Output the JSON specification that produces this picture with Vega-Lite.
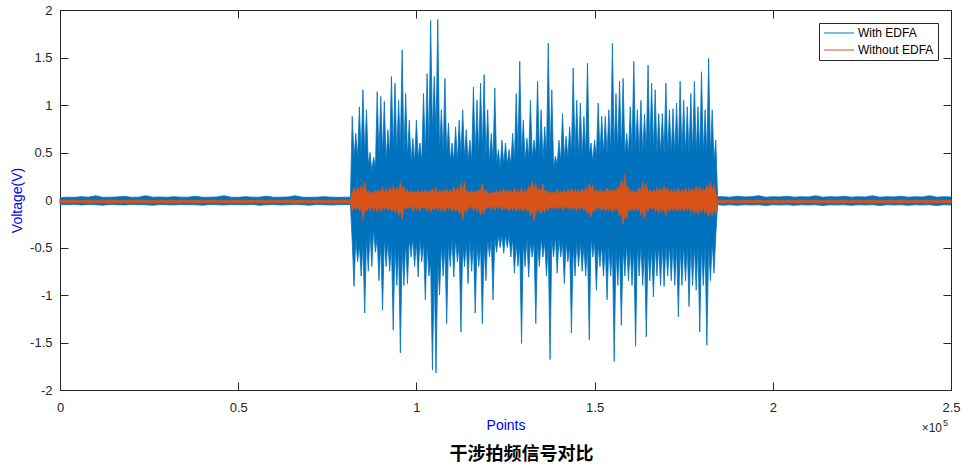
{
"$schema": "https://vega.github.io/schema/vega-lite/v6.json",
"autosize": "none",
"width": 891,
"height": 380,
"padding": {"left": 60, "top": 10, "right": 25, "bottom": 78},
"background": "white",
"config": {
  "font": "Liberation Sans",
  "view": {"stroke": "#262626", "strokeWidth": 1},
  "axis": {"domainColor": "#262626", "tickColor": "#262626", "labelColor": "#262626", "labelFont": "Liberation Sans", "labelFontSize": 13, "tickSize": -8, "grid": false, "titleFont": "Liberation Sans", "titleFontSize": 14, "titleColor": "#0000FF", "titleFontWeight": "normal"}
},
"title": {"text": "干涉拍频信号对比", "orient": "bottom", "anchor": "middle", "font": "Noto Sans CJK SC", "fontSize": 18, "fontWeight": "bold", "color": "#000000", "offset": 12, "dx": 16},
"data": {"values": [
{"x":0,"h":0.025,"l":-0.048,"p":-0.002,"q":-0.03},{"x":2000,"h":0.03,"l":-0.05,"p":-0.003,"q":-0.031},{"x":4000,"h":0.028,"l":-0.046,"p":-0.002,"q":-0.029},{"x":6000,"h":0.035,"l":-0.052,"p":-0.004,"q":-0.03},{"x":8000,"h":0.03,"l":-0.048,"p":-0.002,"q":-0.031},
{"x":10000,"h":0.045,"l":-0.05,"p":-0.003,"q":-0.03},{"x":12000,"h":0.028,"l":-0.055,"p":-0.002,"q":-0.029},{"x":14000,"h":0.03,"l":-0.047,"p":-0.003,"q":-0.031},{"x":16000,"h":0.032,"l":-0.05,"p":-0.002,"q":-0.03},{"x":18000,"h":0.04,"l":-0.052,"p":-0.004,"q":-0.03},
{"x":20000,"h":0.028,"l":-0.047,"p":-0.002,"q":-0.031},{"x":22000,"h":0.03,"l":-0.05,"p":-0.003,"q":-0.029},{"x":24000,"h":0.045,"l":-0.05,"p":-0.002,"q":-0.03},{"x":26000,"h":0.03,"l":-0.056,"p":-0.003,"q":-0.031},{"x":28000,"h":0.032,"l":-0.048,"p":-0.002,"q":-0.03},
{"x":30000,"h":0.028,"l":-0.05,"p":-0.003,"q":-0.03},{"x":32000,"h":0.035,"l":-0.052,"p":-0.002,"q":-0.031},{"x":34000,"h":0.03,"l":-0.047,"p":-0.004,"q":-0.029},{"x":36000,"h":0.03,"l":-0.05,"p":-0.002,"q":-0.03},{"x":38000,"h":0.04,"l":-0.05,"p":-0.003,"q":-0.031},
{"x":40000,"h":0.028,"l":-0.055,"p":-0.002,"q":-0.03},{"x":42000,"h":0.03,"l":-0.047,"p":-0.003,"q":-0.029},{"x":44000,"h":0.032,"l":-0.05,"p":-0.002,"q":-0.03},{"x":46000,"h":0.045,"l":-0.052,"p":-0.004,"q":-0.031},{"x":48000,"h":0.03,"l":-0.048,"p":-0.002,"q":-0.03},
{"x":50000,"h":0.028,"l":-0.05,"p":-0.003,"q":-0.03},{"x":52000,"h":0.035,"l":-0.05,"p":-0.002,"q":-0.031},{"x":54000,"h":0.03,"l":-0.047,"p":-0.003,"q":-0.029},{"x":56000,"h":0.03,"l":-0.055,"p":-0.002,"q":-0.03},{"x":58000,"h":0.04,"l":-0.05,"p":-0.004,"q":-0.031},
{"x":60000,"h":0.028,"l":-0.047,"p":-0.002,"q":-0.03},{"x":62000,"h":0.03,"l":-0.052,"p":-0.003,"q":-0.03},{"x":64000,"h":0.032,"l":-0.05,"p":-0.002,"q":-0.029},{"x":66000,"h":0.045,"l":-0.048,"p":-0.003,"q":-0.031},{"x":68000,"h":0.03,"l":-0.05,"p":-0.002,"q":-0.03},
{"x":70000,"h":0.028,"l":-0.055,"p":-0.004,"q":-0.03},{"x":72000,"h":0.03,"l":-0.047,"p":-0.002,"q":-0.031},{"x":74000,"h":0.035,"l":-0.05,"p":-0.003,"q":-0.029},{"x":76000,"h":0.03,"l":-0.052,"p":-0.002,"q":-0.03},{"x":78000,"h":0.028,"l":-0.05,"p":-0.003,"q":-0.031},
{"x":80000,"h":0.03,"l":-0.048,"p":-0.002,"q":-0.03},{"x":81500,"h":0.03,"l":-0.05,"p":-0.003,"q":-0.03},
{"x":82000,"h":0.88,"l":-0.44,"p":0.07,"q":-0.12},{"x":82500,"h":0.44,"l":-0.91,"p":0.13,"q":-0.07},{"x":83000,"h":0.7,"l":-0.4,"p":0.06,"q":-0.1},{"x":83500,"h":0.44,"l":-0.65,"p":0.14,"q":-0.08},{"x":84000,"h":0.98,"l":-0.47,"p":0.07,"q":-0.11},
{"x":84500,"h":0.47,"l":-0.8,"p":0.16,"q":-0.08},{"x":85000,"h":1.16,"l":-0.47,"p":0.09,"q":-0.2},{"x":85500,"h":0.47,"l":-1.19,"p":0.19,"q":-0.1},{"x":86000,"h":0.95,"l":-0.4,"p":0.07,"q":-0.12},{"x":86500,"h":0.37,"l":-0.75,"p":0.1,"q":-0.07},
{"x":87000,"h":0.5,"l":-0.33,"p":0.06,"q":-0.11},{"x":87500,"h":0.3,"l":-0.7,"p":0.09,"q":-0.06},{"x":88000,"h":0.45,"l":-0.3,"p":0.07,"q":-0.12},{"x":88500,"h":0.33,"l":-0.55,"p":0.1,"q":-0.07},{"x":89000,"h":1.14,"l":-0.4,"p":0.08,"q":-0.13},
{"x":89500,"h":0.44,"l":-0.85,"p":0.11,"q":-0.07},{"x":90000,"h":1.09,"l":-0.44,"p":0.07,"q":-0.12},{"x":90500,"h":0.47,"l":-1.16,"p":0.14,"q":-0.08},{"x":91000,"h":1.04,"l":-0.4,"p":0.07,"q":-0.1},{"x":91500,"h":0.4,"l":-0.7,"p":0.12,"q":-0.07},
{"x":92000,"h":0.74,"l":-0.44,"p":0.07,"q":-0.11},{"x":92500,"h":0.47,"l":-0.75,"p":0.13,"q":-0.08},{"x":93000,"h":1.3,"l":-0.47,"p":0.08,"q":-0.12},{"x":93500,"h":0.5,"l":-1.37,"p":0.15,"q":-0.09},{"x":94000,"h":1.23,"l":-0.47,"p":0.08,"q":-0.13},
{"x":94500,"h":0.47,"l":-0.9,"p":0.14,"q":-0.08},{"x":95000,"h":1.05,"l":-0.5,"p":0.09,"q":-0.16},{"x":95500,"h":0.55,"l":-1.61,"p":0.19,"q":-0.1},{"x":96000,"h":1.58,"l":-0.5,"p":0.1,"q":-0.2},{"x":96500,"h":0.47,"l":-0.9,"p":0.14,"q":-0.08},
{"x":97000,"h":1.12,"l":-0.44,"p":0.07,"q":-0.1},{"x":97500,"h":0.44,"l":-0.88,"p":0.11,"q":-0.07},{"x":98000,"h":0.84,"l":-0.4,"p":0.06,"q":-0.09},{"x":98500,"h":0.4,"l":-0.6,"p":0.1,"q":-0.06},{"x":99000,"h":0.65,"l":-0.4,"p":0.07,"q":-0.12},
{"x":99500,"h":0.4,"l":-0.7,"p":0.09,"q":-0.06},{"x":100000,"h":0.84,"l":-0.44,"p":0.07,"q":-0.11},{"x":100500,"h":0.44,"l":-0.81,"p":0.1,"q":-0.07},{"x":101000,"h":0.6,"l":-0.4,"p":0.07,"q":-0.12},{"x":101500,"h":0.4,"l":-0.65,"p":0.1,"q":-0.07},
{"x":102000,"h":1.12,"l":-0.44,"p":0.06,"q":-0.09},{"x":102500,"h":0.47,"l":-1.05,"p":0.11,"q":-0.07},{"x":103000,"h":1.33,"l":-0.47,"p":0.07,"q":-0.12},{"x":103500,"h":0.55,"l":-0.8,"p":0.1,"q":-0.07},{"x":104000,"h":1.89,"l":-0.65,"p":0.08,"q":-0.13},
{"x":104500,"h":0.7,"l":-1.79,"p":0.12,"q":-0.08},{"x":105000,"h":1.3,"l":-0.7,"p":0.07,"q":-0.1},{"x":105500,"h":0.7,"l":-1.82,"p":0.14,"q":-0.08},{"x":106000,"h":1.9,"l":-0.65,"p":0.07,"q":-0.11},{"x":106500,"h":0.5,"l":-1.0,"p":0.1,"q":-0.07},
{"x":107000,"h":0.95,"l":-0.47,"p":0.07,"q":-0.12},{"x":107500,"h":0.47,"l":-0.8,"p":0.11,"q":-0.07},{"x":108000,"h":1.28,"l":-0.47,"p":0.08,"q":-0.13},{"x":108500,"h":0.47,"l":-1.3,"p":0.12,"q":-0.07},{"x":109000,"h":0.81,"l":-0.44,"p":0.07,"q":-0.1},
{"x":109500,"h":0.4,"l":-0.7,"p":0.11,"q":-0.07},{"x":110000,"h":0.6,"l":-0.4,"p":0.07,"q":-0.12},{"x":110500,"h":0.4,"l":-0.81,"p":0.14,"q":-0.08},{"x":111000,"h":0.77,"l":-0.4,"p":0.08,"q":-0.12},{"x":111500,"h":0.4,"l":-0.65,"p":0.13,"q":-0.08},
{"x":112000,"h":0.84,"l":-0.47,"p":0.09,"q":-0.15},{"x":112500,"h":0.47,"l":-1.39,"p":0.18,"q":-0.1},{"x":113000,"h":0.95,"l":-0.47,"p":0.1,"q":-0.21},{"x":113500,"h":0.44,"l":-0.7,"p":0.19,"q":-0.09},{"x":114000,"h":0.74,"l":-0.44,"p":0.07,"q":-0.13},
{"x":114500,"h":0.4,"l":-0.88,"p":0.1,"q":-0.07},{"x":115000,"h":0.63,"l":-0.4,"p":0.06,"q":-0.09},{"x":115500,"h":0.4,"l":-0.75,"p":0.1,"q":-0.06},{"x":116000,"h":1.19,"l":-0.44,"p":0.07,"q":-0.11},{"x":116500,"h":0.47,"l":-1.19,"p":0.1,"q":-0.07},
{"x":117000,"h":1.05,"l":-0.47,"p":0.07,"q":-0.12},{"x":117500,"h":0.47,"l":-0.7,"p":0.11,"q":-0.07},{"x":118000,"h":1.23,"l":-0.47,"p":0.09,"q":-0.16},{"x":118500,"h":0.5,"l":-1.3,"p":0.18,"q":-0.09},{"x":119000,"h":1.32,"l":-0.47,"p":0.08,"q":-0.15},
{"x":119500,"h":0.44,"l":-0.85,"p":0.11,"q":-0.07},{"x":120000,"h":0.95,"l":-0.4,"p":0.06,"q":-0.09},{"x":120500,"h":0.37,"l":-0.6,"p":0.08,"q":-0.06},{"x":121000,"h":0.7,"l":-0.4,"p":0.06,"q":-0.1},{"x":121500,"h":0.4,"l":-1.05,"p":0.09,"q":-0.06},
{"x":122000,"h":1.18,"l":-0.4,"p":0.07,"q":-0.11},{"x":122500,"h":0.37,"l":-0.55,"p":0.1,"q":-0.06},{"x":123000,"h":0.53,"l":-0.37,"p":0.06,"q":-0.09},{"x":123500,"h":0.33,"l":-0.5,"p":0.1,"q":-0.06},{"x":124000,"h":0.63,"l":-0.37,"p":0.07,"q":-0.11},
{"x":124500,"h":0.37,"l":-0.56,"p":0.12,"q":-0.07},{"x":125000,"h":0.6,"l":-0.37,"p":0.07,"q":-0.1},{"x":125500,"h":0.37,"l":-0.5,"p":0.11,"q":-0.07},{"x":126000,"h":0.53,"l":-0.37,"p":0.07,"q":-0.12},{"x":126500,"h":0.37,"l":-0.6,"p":0.1,"q":-0.07},
{"x":127000,"h":0.7,"l":-0.4,"p":0.07,"q":-0.11},{"x":127500,"h":0.4,"l":-0.77,"p":0.13,"q":-0.07},{"x":128000,"h":1.12,"l":-0.44,"p":0.07,"q":-0.12},{"x":128500,"h":0.47,"l":-0.7,"p":0.1,"q":-0.07},{"x":129000,"h":1.46,"l":-0.47,"p":0.07,"q":-0.11},
{"x":129500,"h":0.47,"l":-1.51,"p":0.13,"q":-0.08},{"x":130000,"h":0.84,"l":-0.44,"p":0.07,"q":-0.12},{"x":130500,"h":0.4,"l":-0.7,"p":0.11,"q":-0.07},{"x":131000,"h":0.65,"l":-0.4,"p":0.08,"q":-0.12},{"x":131500,"h":0.44,"l":-0.81,"p":0.15,"q":-0.09},
{"x":132000,"h":1.05,"l":-0.44,"p":0.1,"q":-0.17},{"x":132500,"h":0.44,"l":-0.6,"p":0.2,"q":-0.1},{"x":133000,"h":0.63,"l":-0.44,"p":0.1,"q":-0.23},{"x":133500,"h":0.47,"l":-1.3,"p":0.18,"q":-0.09},{"x":134000,"h":1.25,"l":-0.44,"p":0.08,"q":-0.13},
{"x":134500,"h":0.44,"l":-0.7,"p":0.12,"q":-0.08},{"x":135000,"h":0.95,"l":-0.4,"p":0.09,"q":-0.15},{"x":135500,"h":0.4,"l":-0.6,"p":0.17,"q":-0.09},{"x":136000,"h":0.77,"l":-0.44,"p":0.08,"q":-0.13},{"x":136500,"h":0.47,"l":-0.8,"p":0.1,"q":-0.07},
{"x":137000,"h":1.65,"l":-0.47,"p":0.07,"q":-0.11},{"x":137500,"h":0.47,"l":-1.68,"p":0.09,"q":-0.06},{"x":138000,"h":1.16,"l":-0.4,"p":0.06,"q":-0.1},{"x":138500,"h":0.33,"l":-0.6,"p":0.09,"q":-0.06},{"x":139000,"h":0.46,"l":-0.37,"p":0.06,"q":-0.1},
{"x":139500,"h":0.37,"l":-0.77,"p":0.11,"q":-0.07},{"x":140000,"h":0.63,"l":-0.4,"p":0.06,"q":-0.09},{"x":140500,"h":0.4,"l":-0.6,"p":0.1,"q":-0.06},{"x":141000,"h":0.91,"l":-0.44,"p":0.07,"q":-0.11},{"x":141500,"h":0.44,"l":-0.88,"p":0.1,"q":-0.07},
{"x":142000,"h":0.67,"l":-0.44,"p":0.06,"q":-0.09},{"x":142500,"h":0.44,"l":-0.65,"p":0.11,"q":-0.07},{"x":143000,"h":0.77,"l":-0.47,"p":0.07,"q":-0.1},{"x":143500,"h":0.47,"l":-1.4,"p":0.12,"q":-0.07},{"x":144000,"h":1.39,"l":-0.47,"p":0.07,"q":-0.1},
{"x":144500,"h":0.47,"l":-0.8,"p":0.11,"q":-0.07},{"x":145000,"h":1.05,"l":-0.44,"p":0.07,"q":-0.12},{"x":145500,"h":0.44,"l":-0.7,"p":0.11,"q":-0.07},{"x":146000,"h":1.02,"l":-0.44,"p":0.07,"q":-0.1},{"x":146500,"h":0.44,"l":-0.75,"p":0.12,"q":-0.07},
{"x":147000,"h":0.88,"l":-0.47,"p":0.07,"q":-0.11},{"x":147500,"h":0.47,"l":-0.8,"p":0.13,"q":-0.08},{"x":148000,"h":1.44,"l":-0.47,"p":0.09,"q":-0.15},{"x":148500,"h":0.47,"l":-1.47,"p":0.17,"q":-0.1},{"x":149000,"h":0.6,"l":-0.4,"p":0.1,"q":-0.18},
{"x":149500,"h":0.4,"l":-0.6,"p":0.16,"q":-0.09},{"x":150000,"h":0.63,"l":-0.44,"p":0.07,"q":-0.12},{"x":150500,"h":0.44,"l":-0.95,"p":0.11,"q":-0.07},{"x":151000,"h":1.02,"l":-0.47,"p":0.07,"q":-0.1},{"x":151500,"h":0.47,"l":-0.7,"p":0.12,"q":-0.07},
{"x":152000,"h":0.88,"l":-0.47,"p":0.07,"q":-0.11},{"x":152500,"h":0.47,"l":-0.8,"p":0.1,"q":-0.07},{"x":153000,"h":0.88,"l":-0.47,"p":0.07,"q":-0.12},{"x":153500,"h":0.47,"l":-1.05,"p":0.13,"q":-0.08},{"x":154000,"h":0.95,"l":-0.47,"p":0.08,"q":-0.12},
{"x":154500,"h":0.5,"l":-0.8,"p":0.11,"q":-0.08},{"x":155000,"h":1.65,"l":-0.5,"p":0.08,"q":-0.13},{"x":155500,"h":0.5,"l":-1.7,"p":0.12,"q":-0.08},{"x":156000,"h":1.12,"l":-0.5,"p":0.08,"q":-0.11},{"x":156500,"h":0.5,"l":-0.9,"p":0.14,"q":-0.09},
{"x":157000,"h":1.25,"l":-0.5,"p":0.1,"q":-0.17},{"x":157500,"h":0.5,"l":-1.32,"p":0.21,"q":-0.12},{"x":158000,"h":1.28,"l":-0.5,"p":0.13,"q":-0.26},{"x":158500,"h":0.47,"l":-0.8,"p":0.27,"q":-0.13},{"x":159000,"h":0.7,"l":-0.47,"p":0.1,"q":-0.2},
{"x":159500,"h":0.47,"l":-0.85,"p":0.14,"q":-0.08},{"x":160000,"h":0.98,"l":-0.5,"p":0.07,"q":-0.12},{"x":160500,"h":0.5,"l":-0.9,"p":0.11,"q":-0.07},{"x":161000,"h":1.46,"l":-0.5,"p":0.07,"q":-0.12},{"x":161500,"h":0.5,"l":-1.54,"p":0.1,"q":-0.07},
{"x":162000,"h":0.95,"l":-0.47,"p":0.07,"q":-0.11},{"x":162500,"h":0.47,"l":-0.8,"p":0.13,"q":-0.08},{"x":163000,"h":1.05,"l":-0.47,"p":0.09,"q":-0.16},{"x":163500,"h":0.47,"l":-0.9,"p":0.19,"q":-0.1},{"x":164000,"h":0.9,"l":-0.5,"p":0.1,"q":-0.2},
{"x":164500,"h":0.5,"l":-1.44,"p":0.17,"q":-0.09},{"x":165000,"h":1.42,"l":-0.5,"p":0.07,"q":-0.12},{"x":165500,"h":0.5,"l":-0.85,"p":0.11,"q":-0.07},{"x":166000,"h":1.23,"l":-0.5,"p":0.07,"q":-0.1},{"x":166500,"h":0.5,"l":-1.02,"p":0.11,"q":-0.07},
{"x":167000,"h":1.16,"l":-0.47,"p":0.07,"q":-0.12},{"x":167500,"h":0.47,"l":-0.8,"p":0.13,"q":-0.08},{"x":168000,"h":0.91,"l":-0.47,"p":0.08,"q":-0.14},{"x":168500,"h":0.47,"l":-0.9,"p":0.12,"q":-0.08},{"x":169000,"h":0.91,"l":-0.47,"p":0.08,"q":-0.13},
{"x":169500,"h":0.47,"l":-0.91,"p":0.15,"q":-0.09},{"x":170000,"h":1.23,"l":-0.47,"p":0.09,"q":-0.16},{"x":170500,"h":0.47,"l":-0.8,"p":0.13,"q":-0.08},{"x":171000,"h":0.95,"l":-0.47,"p":0.07,"q":-0.12},{"x":171500,"h":0.47,"l":-0.85,"p":0.11,"q":-0.07},
{"x":172000,"h":0.96,"l":-0.47,"p":0.07,"q":-0.12},{"x":172500,"h":0.47,"l":-0.9,"p":0.11,"q":-0.07},{"x":173000,"h":1.02,"l":-0.47,"p":0.07,"q":-0.12},{"x":173500,"h":0.47,"l":-1.23,"p":0.13,"q":-0.08},{"x":174000,"h":1.25,"l":-0.47,"p":0.07,"q":-0.12},
{"x":174500,"h":0.47,"l":-0.9,"p":0.11,"q":-0.07},{"x":175000,"h":1.05,"l":-0.47,"p":0.07,"q":-0.12},{"x":175500,"h":0.47,"l":-0.85,"p":0.13,"q":-0.08},{"x":176000,"h":0.98,"l":-0.47,"p":0.07,"q":-0.11},{"x":176500,"h":0.47,"l":-1.12,"p":0.12,"q":-0.08},
{"x":177000,"h":1.12,"l":-0.47,"p":0.08,"q":-0.13},{"x":177500,"h":0.47,"l":-0.9,"p":0.12,"q":-0.08},{"x":178000,"h":1.25,"l":-0.47,"p":0.08,"q":-0.14},{"x":178500,"h":0.47,"l":-0.95,"p":0.15,"q":-0.09},{"x":179000,"h":0.98,"l":-0.47,"p":0.09,"q":-0.16},
{"x":179500,"h":0.47,"l":-1.39,"p":0.14,"q":-0.09},{"x":180000,"h":1.35,"l":-0.47,"p":0.08,"q":-0.13},{"x":180500,"h":0.47,"l":-0.9,"p":0.12,"q":-0.08},{"x":181000,"h":0.95,"l":-0.47,"p":0.09,"q":-0.14},{"x":181500,"h":0.47,"l":-1.53,"p":0.16,"q":-0.1},
{"x":182000,"h":1.49,"l":-0.47,"p":0.1,"q":-0.18},{"x":182500,"h":0.47,"l":-0.85,"p":0.19,"q":-0.1},{"x":183000,"h":0.95,"l":-0.44,"p":0.1,"q":-0.17},{"x":183500,"h":0.4,"l":-0.77,"p":0.16,"q":-0.09},{"x":184000,"h":0.63,"l":-0.37,"p":0.08,"q":-0.15},
{"x":184500,"h":0.035,"l":-0.05,"p":-0.002,"q":-0.03},{"x":186000,"h":0.035,"l":-0.055,"p":-0.003,"q":-0.031},{"x":188000,"h":0.03,"l":-0.05,"p":-0.002,"q":-0.03},{"x":190000,"h":0.04,"l":-0.056,"p":-0.004,"q":-0.029},{"x":192000,"h":0.032,"l":-0.05,"p":-0.002,"q":-0.03},
{"x":194000,"h":0.035,"l":-0.052,"p":-0.003,"q":-0.031},{"x":196000,"h":0.045,"l":-0.05,"p":-0.002,"q":-0.03},{"x":198000,"h":0.03,"l":-0.058,"p":-0.003,"q":-0.03},{"x":200000,"h":0.035,"l":-0.05,"p":-0.002,"q":-0.031},{"x":202000,"h":0.032,"l":-0.052,"p":-0.004,"q":-0.029},
{"x":204000,"h":0.04,"l":-0.05,"p":-0.002,"q":-0.03},{"x":206000,"h":0.03,"l":-0.056,"p":-0.003,"q":-0.031},{"x":208000,"h":0.035,"l":-0.05,"p":-0.002,"q":-0.03},{"x":210000,"h":0.032,"l":-0.052,"p":-0.003,"q":-0.03},{"x":212000,"h":0.045,"l":-0.05,"p":-0.002,"q":-0.029},
{"x":214000,"h":0.03,"l":-0.058,"p":-0.004,"q":-0.031},{"x":216000,"h":0.035,"l":-0.05,"p":-0.002,"q":-0.03},{"x":218000,"h":0.032,"l":-0.052,"p":-0.003,"q":-0.03},{"x":220000,"h":0.04,"l":-0.05,"p":-0.002,"q":-0.031},{"x":222000,"h":0.03,"l":-0.056,"p":-0.003,"q":-0.029},
{"x":224000,"h":0.035,"l":-0.05,"p":-0.002,"q":-0.03},{"x":226000,"h":0.032,"l":-0.052,"p":-0.004,"q":-0.03},{"x":228000,"h":0.045,"l":-0.05,"p":-0.002,"q":-0.031},{"x":230000,"h":0.03,"l":-0.058,"p":-0.003,"q":-0.03},{"x":232000,"h":0.035,"l":-0.05,"p":-0.002,"q":-0.029},
{"x":234000,"h":0.032,"l":-0.052,"p":-0.003,"q":-0.03},{"x":236000,"h":0.04,"l":-0.05,"p":-0.002,"q":-0.031},{"x":238000,"h":0.03,"l":-0.056,"p":-0.004,"q":-0.03},{"x":240000,"h":0.035,"l":-0.05,"p":-0.002,"q":-0.03},{"x":242000,"h":0.032,"l":-0.052,"p":-0.003,"q":-0.029},
{"x":244000,"h":0.045,"l":-0.05,"p":-0.002,"q":-0.031},{"x":246000,"h":0.03,"l":-0.058,"p":-0.003,"q":-0.03},{"x":248000,"h":0.035,"l":-0.05,"p":-0.002,"q":-0.03},{"x":250000,"h":0.032,"l":-0.052,"p":-0.003,"q":-0.031}
]},
"layer": [
  {
    "mark": {"type": "area", "fill": "#0072BD", "fillOpacity": 1, "strokeWidth": 0.8},
    "encoding": {
      "x": {"field": "x", "type": "quantitative", "scale": {"domain": [0, 250000], "nice": false, "zero": false},
            "axis": {"orient": "bottom", "values": [0, 50000, 100000, 150000, 200000, 250000], "labelExpr": "'' + datum.value / 100000", "labelPadding": 19, "labelFlush": false, "title": "Points", "titlePadding": 4}},
      "y": {"field": "h", "type": "quantitative", "scale": {"domain": [-2, 2], "nice": false, "zero": false},
            "axis": {"orient": "left", "values": [-2, -1.5, -1, -0.5, 0, 0.5, 1, 1.5, 2], "labelExpr": "'' + datum.value", "labelPadding": 16, "labelFlush": false, "title": "Voltage(V)", "titlePadding": 5}},
      "y2": {"field": "l"},
      "stroke": {"datum": "With EDFA", "type": "nominal",
                "scale": {"domain": ["With EDFA", "Without EDFA"], "range": ["#0072BD", "#D95319"]},
                "legend": {"orient": "top-right", "offset": 13, "title": null, "symbolType": "M-1,0L5,0", "symbolSize": 100, "symbolStrokeWidth": 1, "symbolFillColor": "transparent", "labelFont": "Liberation Sans", "labelFontSize": 12, "labelColor": "#000000", "strokeColor": "#262626", "fillColor": "#ffffff", "padding": 4, "rowPadding": 5, "labelOffset": 23}}
    }
  },
  {
    "mark": {"type": "area", "fill": "#D95319", "fillOpacity": 1, "strokeWidth": 0.8},
    "encoding": {
      "x": {"field": "x", "type": "quantitative", "axis": {"orient": "top", "values": [0, 50000, 100000, 150000, 200000, 250000], "labels": false, "title": null}},
      "y": {"field": "p", "type": "quantitative", "axis": {"orient": "right", "values": [-2, -1.5, -1, -0.5, 0, 0.5, 1, 1.5, 2], "labels": false, "title": null}},
      "y2": {"field": "q"},
      "stroke": {"datum": "Without EDFA", "type": "nominal"}
    }
  },
  {
    "data": {"values": [{"x": 250000, "y": -2}]},
    "mark": {"type": "text", "text": "×10", "align": "right", "baseline": "middle", "dx": -9, "dy": 38, "fontSize": 12, "color": "#262626", "font": "Liberation Sans"},
    "encoding": {
      "x": {"field": "x", "type": "quantitative", "axis": null},
      "y": {"field": "y", "type": "quantitative", "axis": null}
    }
  },
  {
    "data": {"values": [{"x": 250000, "y": -2}]},
    "mark": {"type": "text", "text": "5", "align": "left", "baseline": "middle", "dx": -8, "dy": 33, "fontSize": 9, "color": "#262626", "font": "Liberation Sans"},
    "encoding": {
      "x": {"field": "x", "type": "quantitative", "axis": null},
      "y": {"field": "y", "type": "quantitative", "axis": null}
    }
  }
]
}
